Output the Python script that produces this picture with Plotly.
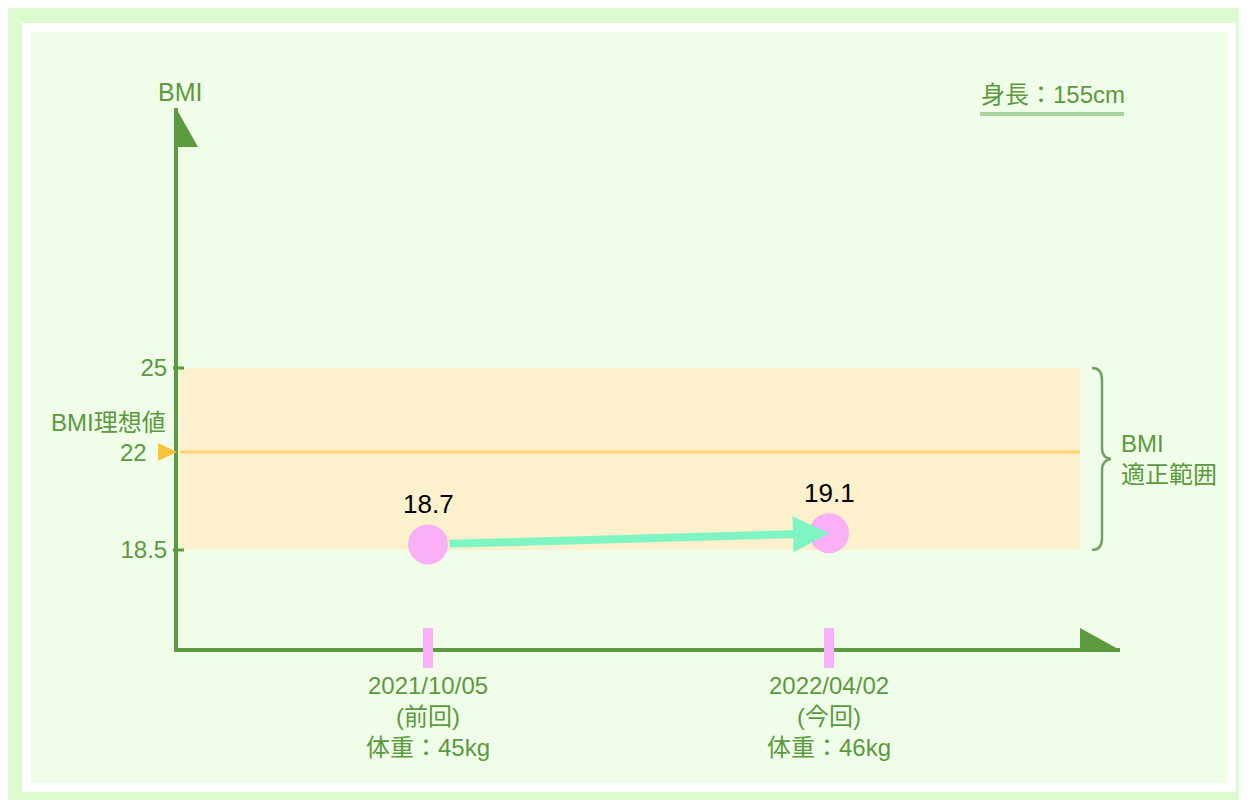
import plotly.graph_objects as go

# ---------------- data ----------------
dates = ["2021/10/05", "2022/04/02"]
visit = ["(前回)", "(今回)"]
weights_kg = [45, 46]
bmi = [18.7, 19.1]
height_cm = 155
bmi_low, bmi_ideal, bmi_high = 18.5, 22, 25
y_tick_vals = [18.5, 25]
y_tick_text = ["18.5", "25"]

# ---------------- styling ----------------
FONT = "Liberation Sans, Arial, Noto Sans CJK JP, sans-serif"
GREEN = "#5b9a3e"
OUTER = "#dcfcd0"
INNER = "#f0fde8"
BAND = "#fdf0cc"
IDEAL = "#fcd66c"
YEL_TRI = "#f8c43a"
PINK = "#f9b0f7"
MINT = "#80f5c4"
BRACE = "#74a063"
UNDERLINE = "#a8d399"

W, H = 1247, 800
OFF = 8  # page body margin
# plot area in page pixels
PL, PR, PT, PB = 178, 1120, 108, 648
X0_PX, X1_PX = 428, 829      # pixel positions of the two visits
Y25_PX, PX_PER_UNIT = 368, 28.0


def fx(px):
    return (px - PL) / (PR - PL)


def fy(py):
    return (PB - py) / (PB - PT)


x_unit = X1_PX - X0_PX
x_range = [(PL - X0_PX) / x_unit, (PR - X0_PX) / x_unit]
y_range = [25 - (PB - Y25_PX) / PX_PER_UNIT, 25 + (Y25_PX - PT) / PX_PER_UNIT]

xs = list(range(len(dates)))

fig = go.Figure()
fig.add_trace(go.Scatter(
    x=xs, y=bmi, mode="markers",
    marker=dict(size=40, color=PINK, line=dict(width=0)),
    hoverinfo="skip", showlegend=False,
))

shapes = []
# frame
shapes.append(dict(type="rect", xref="paper", yref="paper",
                   x0=fx(22), x1=fx(1236), y0=fy(792), y1=fy(23),
                   fillcolor="white", line=dict(width=0), layer="below"))
shapes.append(dict(type="rect", xref="paper", yref="paper",
                   x0=fx(31), x1=fx(1228), y0=fy(783), y1=fy(32),
                   fillcolor=INNER, line=dict(width=0), layer="below"))
# BMI range band
shapes.append(dict(type="rect", xref="paper", yref="y",
                   x0=fx(180), x1=fx(1080), y0=bmi_low, y1=bmi_high,
                   fillcolor=BAND, line=dict(width=0), layer="below"))
# ideal line
shapes.append(dict(type="line", xref="paper", yref="y",
                   x0=fx(180), x1=fx(1080), y0=bmi_ideal, y1=bmi_ideal,
                   line=dict(color=IDEAL, width=3), layer="below"))
# crossing ticks on y axis
for v in y_tick_vals:
    shapes.append(dict(type="line", xref="paper", yref="y",
                       x0=fx(173), x1=fx(184), y0=v, y1=v,
                       line=dict(color=GREEN, width=3)))
# yellow triangle marker at ideal value
y22 = Y25_PX + (25 - bmi_ideal) * PX_PER_UNIT
shapes.append(dict(type="path", xref="paper", yref="paper",
                   path=f"M {fx(158)},{fy(y22-9)} L {fx(177)},{fy(y22)} L {fx(158)},{fy(y22+9)} Z",
                   fillcolor=YEL_TRI, line=dict(width=0)))
# axis arrowheads
shapes.append(dict(type="path", xref="paper", yref="paper",
                   path=f"M {fx(176)},{fy(108)} L {fx(198)},{fy(147)} L {fx(176)},{fy(147)} Z",
                   fillcolor=GREEN, line=dict(width=0)))
shapes.append(dict(type="path", xref="paper", yref="paper",
                   path=f"M {fx(1080)},{fy(628)} L {fx(1120)},{fy(650)} L {fx(1080)},{fy(650)} Z",
                   fillcolor=GREEN, line=dict(width=0)))
# pink x ticks
for i in xs:
    shapes.append(dict(type="line", xref="x", yref="paper",
                       x0=i, x1=i, y0=fy(668), y1=fy(628),
                       line=dict(color=PINK, width=10)))
# brace
yt = Y25_PX
yb = Y25_PX + (25 - bmi_low) * PX_PER_UNIT
ym = (yt + yb) / 2
bp = (f"M {fx(1092)},{fy(yt)} Q {fx(1102)},{fy(yt)} {fx(1102)},{fy(yt+12)} "
      f"L {fx(1102)},{fy(ym-11)} Q {fx(1102)},{fy(ym-1)} {fx(1111)},{fy(ym)} "
      f"Q {fx(1102)},{fy(ym+1)} {fx(1102)},{fy(ym+11)} "
      f"L {fx(1102)},{fy(yb-12)} Q {fx(1102)},{fy(yb)} {fx(1092)},{fy(yb)}")
shapes.append(dict(type="path", xref="paper", yref="paper", path=bp,
                   line=dict(color=BRACE, width=2.5)))
# height underline
shapes.append(dict(type="line", xref="paper", yref="paper",
                   x0=fx(980), x1=fx(1124), y0=fy(114), y1=fy(114),
                   line=dict(color=UNDERLINE, width=4)))

annotations = []
# arrow between the two visits
annotations.append(dict(
    x=xs[1], y=bmi[1], ax=xs[0], ay=bmi[0],
    xref="x", yref="y", axref="x", ayref="y",
    text="", showarrow=True, arrowhead=2, arrowsize=0.9, arrowwidth=8,
    arrowcolor=MINT, standoff=0, startstandoff=20,
))
# value labels
for i, v in zip(xs, bmi):
    annotations.append(dict(x=i, y=v, xref="x", yref="y", text=f"{v}",
                            showarrow=False, yshift=40,
                            xanchor="center", yanchor="middle",
                            font=dict(family=FONT, size=26, color="black")))
# x labels
for i in xs:
    annotations.append(dict(
        x=i, y=fy(716), xref="x", yref="paper",
        xanchor="center", yanchor="middle",
        text=f"{dates[i]}<br>{visit[i]}<br>体重：{weights_kg[i]}kg",
        showarrow=False, align="center",
        font=dict(family=FONT, size=24, color=GREEN)))
# axis title
annotations.append(dict(x=fx(180), y=fy(92), xref="paper", yref="paper",
                        xanchor="center", yanchor="middle",
                        text="BMI", showarrow=False,
                        font=dict(family=FONT, size=25, color=GREEN)))
# ideal labels
annotations.append(dict(x=fx(168), y=fy(422), xref="paper", yref="paper",
                        xanchor="right", yanchor="middle",
                        text="BMI理想値", showarrow=False,
                        font=dict(family=FONT, size=24, color=GREEN)))
annotations.append(dict(x=fx(149), y=bmi_ideal, xref="paper", yref="y",
                        xanchor="right", yanchor="middle",
                        text=f"{bmi_ideal}", showarrow=False,
                        font=dict(family=FONT, size=24, color=GREEN)))
# range label
annotations.append(dict(x=fx(1119), y=fy(ym), xref="paper", yref="paper",
                        xanchor="left", yanchor="middle", align="left",
                        text="BMI<br>適正範囲", showarrow=False,
                        font=dict(family=FONT, size=24, color=GREEN)))
# height label
annotations.append(dict(x=fx(979), y=fy(95), xref="paper", yref="paper",
                        xanchor="left", yanchor="middle",
                        text=f"身長：{height_cm}cm", showarrow=False,
                        font=dict(family=FONT, size=24, color=GREEN)))

fig.update_layout(
    width=W, height=H,
    margin=dict(l=PL - OFF, r=W - (PR - OFF), t=PT - OFF, b=H - (PB - OFF), pad=0),
    paper_bgcolor=OUTER, plot_bgcolor="rgba(0,0,0,0)",
    shapes=shapes, annotations=annotations,
    xaxis=dict(range=x_range, showgrid=False, zeroline=False, showticklabels=False,
               ticks="", showline=True, linecolor=GREEN, linewidth=4, fixedrange=True),
    yaxis=dict(range=y_range, showgrid=False, zeroline=False,
               tickmode="array", tickvals=y_tick_vals, ticktext=y_tick_text,
               ticks="", ticklabelstandoff=2,
               tickfont=dict(family=FONT, size=24, color=GREEN),
               showline=True, linecolor=GREEN, linewidth=4, fixedrange=True),
    showlegend=False,
)

fig.write_html("out.html")
